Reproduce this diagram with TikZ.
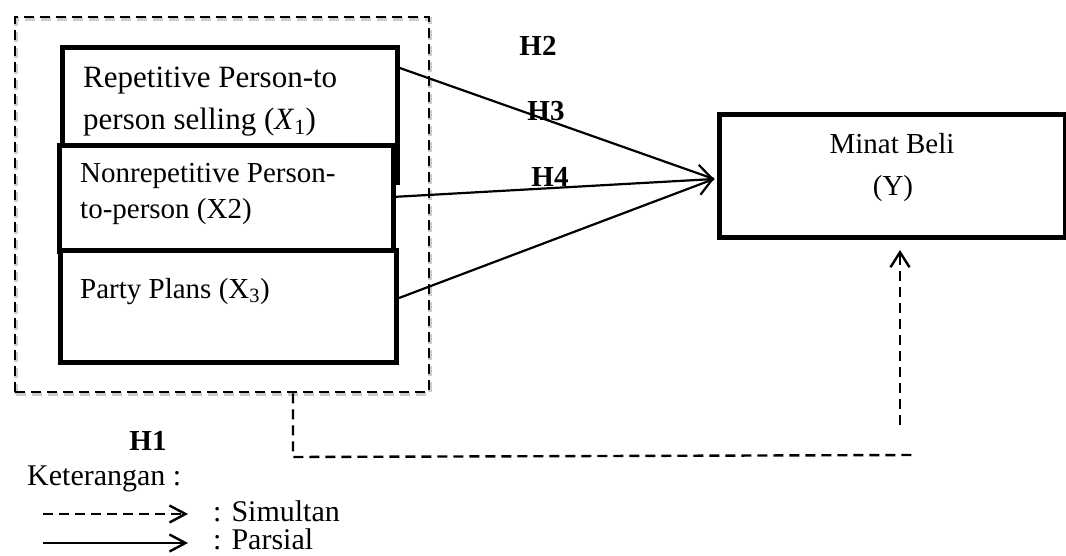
\documentclass[tikz,border=0pt]{standalone}
\usepackage{fontspec}
\setmainfont{Liberation Serif}
\usetikzlibrary{arrows.meta}
\tikzset{
  vbox/.style={draw, line width=4.5pt, fill=white, inner sep=0pt, anchor=north west},
  lbl/.style={inner sep=0pt, font=\fontsize{29}{35}\selectfont},
  hlbl/.style={inner sep=0pt, font=\fontsize{29}{35}\selectfont\bfseries},
  dashln/.style={line width=2.4pt, dash pattern=on 10pt off 6pt},
  solidln/.style={line width=2.2pt},
  bigbarb/.style={-{Straight Barb[length=13pt,width=30pt,line width=2.2pt]}},
  upbarb/.style={-{Straight Barb[length=15pt,width=19pt,line width=2.4pt]}},
  legbarb/.style={-{Straight Barb[length=16pt,width=17pt,line width=2.4pt]}},
}
\begin{document}
\begin{tikzpicture}[x=1pt,y=-1pt]
\useasboundingbox (0,0) rectangle (1066,555);
% outer dashed frame
\node[draw=black!20, line width=4pt, dash pattern=on 10pt off 6pt, inner sep=0pt, anchor=north west, minimum width=414pt, minimum height=375pt] (frameshadow) at (14,17) {};
\node[draw, dashln, inner sep=0pt, anchor=north west, minimum width=414pt, minimum height=375pt] (frame) at (14,16) {};
% boxes
\node[vbox, minimum width=335pt, minimum height=135pt] (b1) at (60,45) {};
\node[vbox, minimum width=334pt, minimum height=106pt] (b2) at (57,143) {};
\node[vbox, minimum width=336pt, minimum height=112pt] (b3) at (58,248) {};
\node[vbox, minimum width=346pt, minimum height=123pt] (m) at (717,112) {};
% box texts
\node[lbl, anchor=base west, font=\fontsize{31}{35}\selectfont] (t1a) at (83,87) {Repetitive Person-to};
\node[lbl, anchor=base west, font=\fontsize{31}{35}\selectfont] (t1b) at (83,129) {person selling (\textit{X}\textsubscript{1})};
\node[lbl, anchor=base west] (t2a) at (80,182) {Nonrepetitive Person-};
\node[lbl, anchor=base west] (t2b) at (80,218) {to-person (X2)};
\node[lbl, anchor=base west] (t3) at (80,298) {Party Plans (X\textsubscript{3})};
\node[lbl, anchor=base] (tm1) at (892,153) {Minat Beli};
\node[lbl, anchor=base] (tm2) at (893,195) {(Y)};
% partial connectors
\coordinate (s1) at (397,67);
\coordinate (s2) at (392,197);
\coordinate (s3) at (399,298);
\coordinate (tip) at (714,179);
\draw[solidln] (s1) -- (tip);
\draw[solidln] (s3) -- (tip);
\draw[solidln, bigbarb] (s2) -- (tip);
% hypothesis labels
\node[hlbl] (h2) at (538,46) {H2};
\node[hlbl] (h3) at (546,111) {H3};
\node[hlbl] (h4) at (550,177) {H4};
\node[hlbl] (h1) at (148,441) {H1};
% simultaneous connector
\coordinate (c1) at (293,457);
\coordinate (c2) at (912,455);
\coordinate (u1) at (900,425);
\coordinate (u2) at (900,250);
\draw[dashln] (frame.south -| c1) -- (c1) -- (c2);
\draw[dashln, upbarb] (u1) -- (u2);
% legend
\node[lbl, anchor=base west, font=\fontsize{30}{35}\selectfont] (ket) at (27,485) {Keterangan :};
\coordinate (l1a) at (43,514);
\coordinate (l1b) at (188,514);
\coordinate (l2a) at (43,543);
\coordinate (l2b) at (188,543);
\draw[dashln, legbarb] (l1a) -- (l1b);
\draw[solidln, legbarb] (l2a) -- (l2b);
\node[lbl, anchor=base west, font=\fontsize{30}{35}\selectfont] (sim) at (213,521) {: Simultan};
\node[lbl, anchor=base west, font=\fontsize{30}{35}\selectfont] (par) at (213,549) {: Parsial};
\end{tikzpicture}
\end{document}
